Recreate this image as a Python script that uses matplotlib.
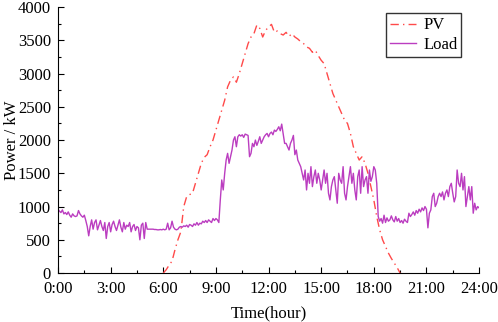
import numpy as np
import matplotlib
matplotlib.use('Agg')
import matplotlib.pyplot as plt
from matplotlib.ticker import MultipleLocator, FuncFormatter

plt.rcParams['font.family'] = ['Liberation Serif', 'DejaVu Serif']

# Load, 5-min steps, one row per hour (0:00 .. 23:55) + 24:00
load_kw = [
    960, 930, 910, 950, 890, 910, 880, 920, 870, 840, 890, 860,
    850, 860, 940, 890, 860, 840, 870, 790, 700, 560, 700, 800,
    660, 760, 800, 650, 720, 790, 700, 640, 760, 520, 700, 760,
    620, 730, 780, 700, 640, 720, 800, 690, 620, 760, 660, 720,
    700, 760, 620, 700, 730, 640, 700, 680, 500, 720, 750, 520,
    760, 660, 660, 660, 660, 660, 655, 655, 650, 650, 655, 650,
    660, 650, 660, 750, 650, 680, 780, 690, 660, 650, 660, 690,
    700, 690, 710, 700, 720, 690, 730, 720, 700, 740, 720, 760,
    720, 750, 740, 780, 760, 790, 760, 800, 780, 760, 820, 790,
    820, 800, 760, 1100, 1400, 1250, 1500, 1700, 1800, 1650, 1750, 1850,
    2000, 2050, 1900, 2050, 2080, 2060, 2080, 2040, 2090, 2080, 2070, 1750,
    1800, 1950, 1900, 2000, 1920, 1980, 2050, 1950, 2000, 2050, 2080, 2100,
    2050, 2100, 2120, 2080, 2150, 2130, 2160, 2200, 2140, 2240, 2100, 1950,
    1950, 1900, 1850, 1950, 2000, 2070, 1780, 1850, 1700, 1650, 1600, 1500,
    1400, 1550, 1250, 1500, 1350, 1600, 1300, 1450, 1550, 1350, 1500, 1400,
    1250, 1400, 1550, 1350, 1500, 1200, 1100, 1300, 1400, 1450, 1250, 1050,
    1500, 1400, 1350, 1600, 1200, 1100, 1300, 1450, 1600, 1350, 1500, 1250,
    1100, 1450, 1550, 1200, 1600, 1300, 1400, 1450, 1200, 1550, 1380, 1450,
    1600, 1550, 1350, 850, 780, 820, 750, 870, 760, 830, 780, 800,
    860, 800, 770, 850, 780, 820, 760, 790, 750, 810, 780, 760,
    900, 850, 880, 920, 870, 940, 900, 960, 920, 980, 940, 1000,
    960, 680, 900, 950, 1150, 1200, 1000, 1050, 1150, 1200, 1150, 1220,
    1100, 1200, 1250, 1150, 1300, 1350, 1200, 1070, 1150, 1550, 1350, 1300,
    1500, 1250, 1450, 1000, 1150, 1300, 1100, 1300, 900, 1050, 950, 1000,
    980,
]
load_t = np.arange(len(load_kw)) * 5 / 60

# PV, 10-min steps from 6:00 to 19:30
pv_kw = [
    0, 50, 120, 180, 350, 500,
    620, 1000, 1150, 1180, 1200, 1350,
    1500, 1650, 1740, 1780, 1900, 2000,
    2150, 2300, 2450, 2600, 2800, 2900,
    2950, 2870, 3000, 3150, 3300, 3450,
    3550, 3600, 3730, 3680, 3550, 3650,
    3700, 3740, 3620, 3640, 3600, 3580,
    3620, 3560, 3600, 3550, 3520, 3480,
    3450, 3400, 3380, 3320, 3350, 3270,
    3200, 3150, 3000, 2850, 2700, 2600,
    2500, 2400, 2300, 2250, 2100, 1900,
    1800, 1700, 1750, 1650, 1500, 1300,
    1100, 850, 650, 500, 400, 300,
    220, 150, 80, 0,
]
pv_t = 6 + np.arange(len(pv_kw)) * 10 / 60

fig = plt.figure(figsize=(4.98, 3.22), dpi=100)
ax = fig.add_axes([0.1165, 0.152, 0.8455, 0.826])

ax.plot(pv_t, pv_kw, color='#FF4A4A', lw=1.0, ls=(0, (6, 3, 1, 3)), label='PV')
ax.plot(load_t, load_kw, color='#BB3DC0', lw=1.0, label='Load')

ax.set_xlim(0, 24)
ax.set_ylim(0, 4000)
ax.xaxis.set_major_locator(MultipleLocator(3))
ax.xaxis.set_minor_locator(MultipleLocator(1.5))
ax.xaxis.set_major_formatter(FuncFormatter(lambda v, p: f"{int(v)}:00"))
ax.yaxis.set_major_locator(MultipleLocator(500))
ax.yaxis.set_minor_locator(MultipleLocator(250))
ax.tick_params(which='both', direction='in', labelsize=12, width=0.8)
ax.tick_params(which='major', length=4)
ax.tick_params(which='minor', length=2.5)
ax.tick_params(axis='x', pad=6)
ax.tick_params(axis='y', pad=5)
ax.spines['top'].set_visible(False)
ax.spines['right'].set_visible(False)

ax.set_xlabel('Time(hour)', fontsize=12, labelpad=6)
ax.set_ylabel('Power / kW', fontsize=12)
ax.yaxis.set_label_coords(-0.09, 0.5)

ax.legend(loc='upper right', bbox_to_anchor=(0.978, 1.008), fontsize=12,
          frameon=True, fancybox=False, edgecolor='#333333', framealpha=1,
          handlelength=1.6, handletextpad=0.4, borderpad=0.25, labelspacing=0.2)

fig.savefig('out.png', dpi=100)
